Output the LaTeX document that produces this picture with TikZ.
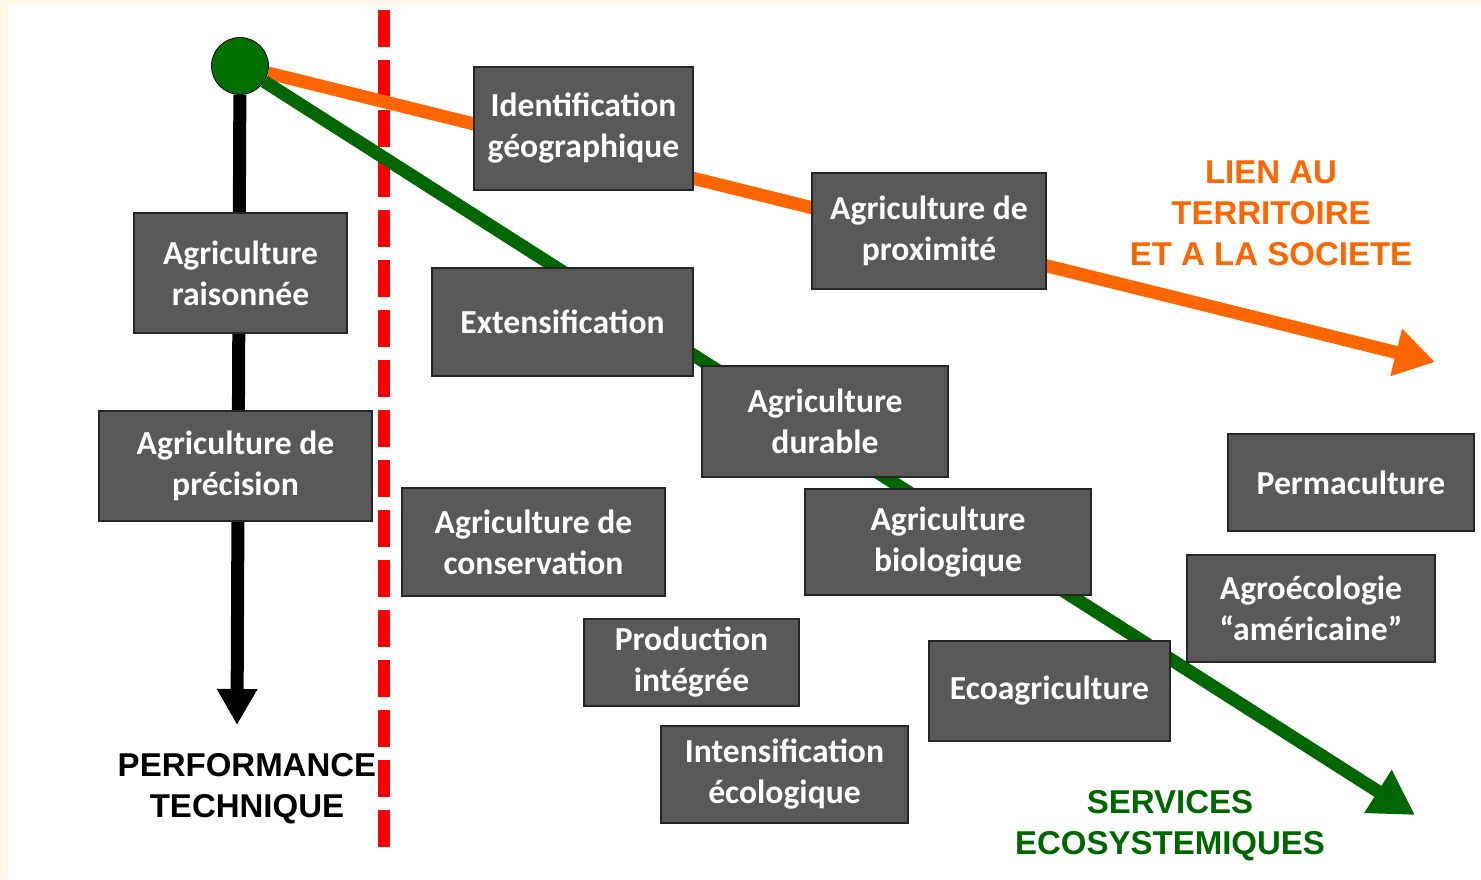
\documentclass[tikz,border=0pt]{standalone}
\usepackage{fontspec}
\setmainfont{Carlito}
\newfontfamily\labelfont{Liberation Sans}
\usetikzlibrary{arrows.meta}
\definecolor{boxgray}{RGB}{89,89,89}
\definecolor{lienorange}{RGB}{255,102,0}
\definecolor{servgreen}{RGB}{0,102,0}
\definecolor{rootgreen}{RGB}{0,112,0}
\definecolor{cream}{RGB}{255,248,230}

\begin{document}
\begin{tikzpicture}[x=0.5pt,y=-0.5pt,
	box/.style={draw=black!85, line width=1pt, fill=boxgray, text=white, align=center,
		inner sep=0pt, font=\bfseries\fontsize{16.8}{20.5}\selectfont},
	sz/.style 2 args={minimum width=#1*0.5pt, minimum height=#2*0.5pt},
	tag/.style={align=center, font=\labelfont\bfseries\fontsize{16.5}{20.5}\selectfont},
	axe/.style={line width=6.5pt}]
\fill[cream] (0,0) rectangle (1481,879);
\fill[white] (8,5) rectangle (1481,879);
\draw[red, line width=6pt, dash pattern=on 18.5pt off 6.5pt] (384,10) -- (384,855);
\node [circle, draw=black, fill=rootgreen, inner sep=0pt, minimum size=28.5pt] (root) at (240,66) {};
\coordinate (bend) at (237,725);
\coordinate (oend) at (1435,362);
\coordinate (gend) at (1415,815);
\draw[axe, black, -{Triangle[length=18pt, width=19pt]}] (root) -- (bend);
\draw[axe, lienorange, -{Triangle[length=20pt, width=23pt]}] (root) -- (oend);
\draw[axe, servgreen, -{Triangle[length=22pt, width=24pt]}] (root) -- (gend);
% boites
\node[box, sz={219}{123}] (geo) at (583.5,128.5) {Identification\\géographique};
\node[box, sz={234}{116}] (prox) at (929,231) {Agriculture de\\proximité};
\node[box, sz={213}{120}] (rais) at (240.5,273) {Agriculture\\raisonnée};
\node[box, sz={261}{108}] (ext) at (562.5,322) {Extensification};
\node[box, sz={246}{111}] (dur) at (825,421.5) {Agriculture\\durable};
\node[box, sz={273}{110}] (prec) at (235.5,466) {Agriculture de\\précision};
\node[box, sz={263}{108}] (cons) at (533.5,542) {Agriculture de\\conservation};
\node[box, sz={286}{106}] (bio) at (948,542) {Agriculture\\biologique};
\node[box, sz={246}{97}] (perma) at (1351,482.5) {Permaculture};
\node[box, sz={248}{107}] (agroeco) at (1311,608.5) {Agroécologie\\“américaine”};
\node[box, sz={215}{87}] (prod) at (691.5,662.5) {Production\\intégrée};
\node[box, sz={241}{100}] (ecoagri) at (1049.5,691) {Ecoagriculture};
\node[box, sz={247}{97}] (intens) at (784.5,774.5) {Intensification\\écologique};
% titres des axes
\node[tag, black] (perf) at (247,789) {PERFORMANCE\\TECHNIQUE};
\node[tag, lienorange] (lien) at (1271,213) {LIEN AU\\TERRITOIRE\\ET A LA SOCIETE};
\node[tag, servgreen] (serv) at (1170,826) {SERVICES\\ECOSYSTEMIQUES};
\end{tikzpicture}
\end{document}
